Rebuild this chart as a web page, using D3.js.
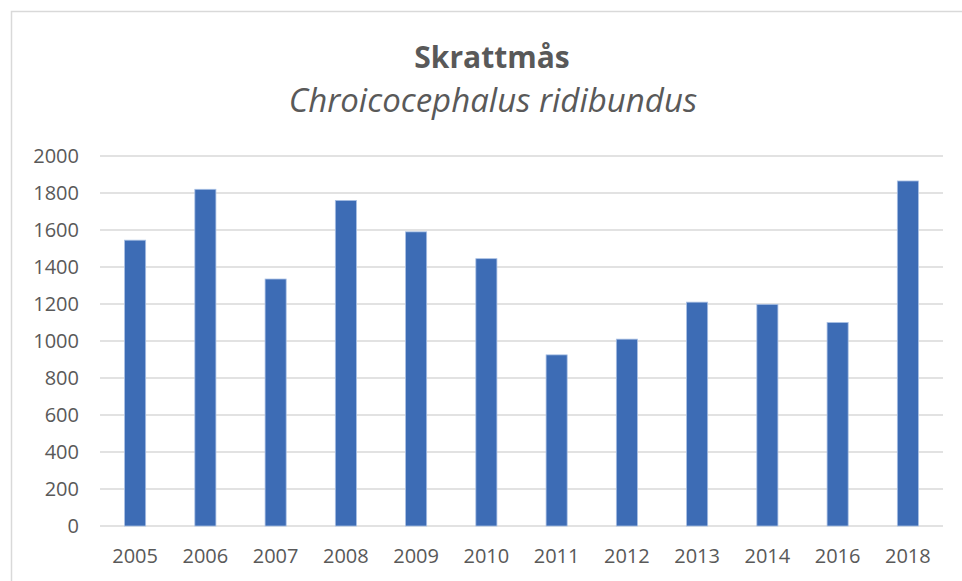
<!DOCTYPE html>
<html>
<head>
<meta charset="utf-8">
<script src="https://cdn.jsdelivr.net/npm/d3@7"></script>
<style>
	body { margin: 0; background: #fff; }
	svg { display: block; }
	text { font-family: "Open Sans", "Noto Sans", sans-serif; fill: #595959; }
</style>
</head>
<body>
<svg id="chart"></svg>
<script>
var years = ["2005", "2006", "2007", "2008", "2009", "2010", "2011", "2012", "2013", "2014", "2016", "2018"];
var counts = [1545, 1820, 1335, 1760, 1590, 1445, 925, 1010, 1210, 1198, 1100, 1865];
var yTicks = [0, 200, 400, 600, 800, 1000, 1200, 1400, 1600, 1800, 2000];
var title = "Skrattmås";
var subtitle = "Chroicocephalus ridibundus";

var width = 962, height = 581;
var margin = {top: 156, right: 19, bottom: 55, left: 100};

var svg = d3.select("#chart")
	.attr("width", width)
	.attr("height", height);

// chart frame (only top and left edges are in view)
svg.append("rect")
	.attr("x", 11.5)
	.attr("y", 11.5)
	.attr("width", width + 20)
	.attr("height", height + 20)
	.attr("fill", "none")
	.attr("stroke", "#d9d9d9")
	.attr("stroke-width", 1.5);

var x = d3.scaleBand()
	.domain(years)
	.range([margin.left, width - margin.right])
	.paddingInner(0.7)
	.paddingOuter(0.35);

var y = d3.scaleLinear()
	.domain([0, 2000])
	.range([height - margin.bottom, margin.top]);

// gridlines
svg.append("g")
	.selectAll("line")
	.data(yTicks)
	.enter().append("line")
	.attr("x1", margin.left)
	.attr("x2", width - margin.right)
	.attr("y1", function(d) { return y(d); })
	.attr("y2", function(d) { return y(d); })
	.attr("stroke", "#d9d9d9")
	.attr("stroke-width", 1.5);

// y axis labels
var yAxis = d3.axisLeft(y).tickValues(yTicks).tickFormat(d3.format("d")).tickSize(0).tickPadding(21);
svg.append("g")
	.attr("transform", "translate(" + margin.left + ",0)")
	.call(yAxis)
	.call(function(g) { g.select(".domain").remove(); })
	.selectAll("text")
	.style("font-size", "20px")
	.attr("fill", "#595959");

// x axis labels
var xAxis = d3.axisBottom(x).tickSize(0).tickPadding(23);
svg.append("g")
	.attr("transform", "translate(0," + y(0) + ")")
	.call(xAxis)
	.call(function(g) { g.select(".domain").remove(); })
	.selectAll("text")
	.style("font-size", "20px")
	.attr("fill", "#595959");

// bars
svg.append("g")
	.selectAll("rect")
	.data(counts)
	.enter().append("rect")
	.attr("x", function(d, i) { return x(years[i]); })
	.attr("width", x.bandwidth())
	.attr("y", function(d) { return y(d); })
	.attr("height", function(d) { return y(0) - y(d); })
	.attr("fill", "#3d6cb5")
	.attr("stroke", "#a9c0e4")
	.attr("stroke-width", 0.8);

// titles
svg.append("text")
	.attr("x", 492)
	.attr("y", 68)
	.attr("text-anchor", "middle")
	.style("font-size", "30px")
	.style("font-weight", "bold")
	.attr("fill", "#4a4a4a")
	.text(title);

svg.append("text")
	.attr("x", 493)
	.attr("y", 112)
	.attr("text-anchor", "middle")
	.style("font-size", "33px")
	.style("font-style", "italic")
	.attr("fill", "#4a4a4a")
	.text(subtitle);
</script>
</body>
</html>
